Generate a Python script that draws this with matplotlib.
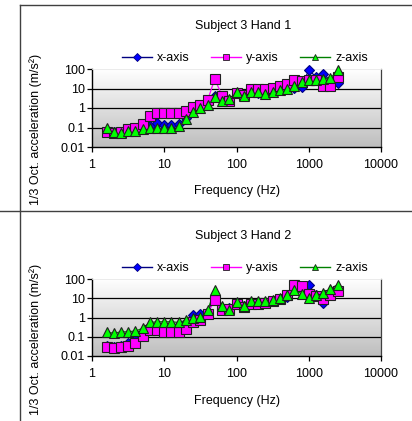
import numpy as np
import matplotlib
matplotlib.use("Agg")
import matplotlib.pyplot as plt
from matplotlib.lines import Line2D
from matplotlib.colors import LinearSegmentedColormap

plt.rcParams['font.family'] = ['Liberation Sans', 'DejaVu Sans']

# 1/3-octave band centre frequencies (Hz)
freq = [1.6, 2, 2.5, 3.15, 4, 5, 6.3, 8, 10, 12.5, 16, 20, 25, 31.5, 40, 50, 63,
        80, 100, 125, 160, 200, 250, 315, 400, 500, 630, 800, 1000, 1250, 1600,
        2000, 2500]

# Hand 1 acceleration spectra (m/s^2)
h1_x = [0.07, 0.06, 0.06, 0.07, 0.08, 0.09, 0.12, 0.18, 0.13, 0.13, 0.16, 0.3,
        0.9, 1.3, 2.0, 4.0, 3.0, 2.5, 6.0, 4.5, 7.0, 6.0, 6.0, 7.0, 8.0, 10.0,
        11.0, 12.0, 90.0, 40.0, 55.0, 25.0, 20.0]
h1_y = [0.06, 0.051, 0.06, 0.08, 0.1, 0.15, 0.4, 0.55, 0.55, 0.55, 0.55, 0.73,
        1.1, 1.4, 2.6, 31.0, 4.3, 2.4, 6.0, 4.7, 9.6, 9.6, 8.9, 10.8, 13.0, 17.0,
        26.0, 23.0, 26.0, 26.0, 13.0, 13.0, 38.0]
h1_z = [0.089, 0.06, 0.055, 0.067, 0.067, 0.08, 0.1, 0.09, 0.09, 0.09, 0.12, 0.27,
        0.6, 0.96, 1.4, 3.6, 2.2, 2.9, 7.0, 4.3, 6.5, 7.0, 5.3, 6.5, 7.9, 8.9,
        14.0, 22.0, 26.0, 26.0, 32.0, 34.0, 85.0]

# Hand 2 acceleration spectra (m/s^2)
h2_x = [0.035, 0.03, 0.035, 0.05, 0.08, 0.14, 0.3, 0.35, 0.35, 0.35, 0.4, 0.5,
        1.4, 1.6, 2.0, 12.0, 3.0, 3.0, 5.5, 4.0, 6.0, 6.0, 6.0, 7.0, 9.0, 12.0,
        30.0, 40.0, 50.0, 15.0, 6.0, 15.0, 25.0]
h2_y = [0.029, 0.026, 0.029, 0.035, 0.046, 0.11, 0.22, 0.22, 0.18, 0.18, 0.18, 0.25,
        0.6, 0.73, 1.6, 8.4, 2.4, 2.9, 5.2, 3.5, 5.0, 5.0, 5.5, 7.0, 9.0, 15.0,
        51.0, 45.0, 17.0, 12.5, 9.5, 14.0, 23.0]
h2_z = [0.18, 0.15, 0.18, 0.18, 0.2, 0.27, 0.55, 0.6, 0.6, 0.6, 0.55, 0.73,
        0.9, 1.1, 2.4, 27.0, 3.8, 2.4, 6.3, 4.0, 7.6, 7.6, 7.0, 8.4, 10.6, 15.0,
        27.0, 17.0, 10.6, 14.0, 18.0, 31.0, 51.0]

titles = ["Subject 3 Hand 1", "Subject 3 Hand 2"]
series_names = ["x-axis", "y-axis", "z-axis"]
y_ticks = [0.01, 0.1, 1, 10, 100]
y_ticklabels = ["0.01", "0.1", "1", "10", "100"]
x_ticks = [1, 10, 100, 1000, 10000]
x_ticklabels = ["1", "10", "100", "1000", "10000"]

styles = [
    dict(color="#000080", marker="D", mfc="#0000ff", mec="#000080", ms=5.0, lms=4.0),
    dict(color="#ff00ff", marker="s", mfc="#ff00ff", mec="#202020", ms=6.5, lms=4.5),
    dict(color="#008000", marker="^", mfc="#00ff00", mec="#202020", ms=7.0, lms=4.5),
]

FS = 9
W, H = 412, 421
fig = plt.figure(figsize=(W / 100, H / 100), dpi=100)


def fx(px):
    return px / W


def fy(py):
    return 1 - py / H


# panel frames
frame_kw = dict(color="#404040", lw=1.0, transform=fig.transFigure)
fig.add_artist(Line2D([fx(19.5), fx(19.5)], [fy(5), fy(H)], **frame_kw))
fig.add_artist(Line2D([fx(19.5), fx(412)], [fy(5.0), fy(5.0)], **frame_kw))
fig.add_artist(Line2D([fx(0), fx(412)], [fy(210.5), fy(210.5)], **frame_kw))

gradient = np.linspace(1, 0, 256).reshape(-1, 1)
grad_cmap = LinearSegmentedColormap.from_list("g", ["#bebebe", "#ffffff"])

panels = [
    dict(top=69, bottom=147, data=(h1_x, h1_y, h1_z), off=0),
    dict(top=279, bottom=356, data=(h2_x, h2_y, h2_z), off=210),
]

for i, p in enumerate(panels):
    ax = fig.add_axes([fx(92), fy(p["bottom"]), fx(381) - fx(92),
                       fy(p["top"]) - fy(p["bottom"])])
    ax.set_xscale("log")
    ax.set_yscale("log")
    ax.set_xlim(1, 10000)
    ax.set_ylim(0.01, 100)
    ax.imshow(gradient, cmap=grad_cmap, aspect="auto", extent=[0, 1, 0, 1],
              transform=ax.transAxes, zorder=0, vmin=0, vmax=1)
    for yv in [0.1, 1, 10]:
        ax.axhline(yv, color="black", lw=0.9, zorder=1)

    handles = []
    for vals, st, name in zip(p["data"], styles, series_names):
        ax.plot(freq, vals, color=st["color"], lw=0.9, zorder=3, clip_on=False)
        ax.plot(freq, vals, ls="none", marker=st["marker"],
                mfc=st["mfc"], mec=st["mec"], mew=0.8,
                ms=st["ms"], zorder=4, clip_on=False)
        handles.append(Line2D([], [], color=st["color"], lw=1.0,
                              marker=st["marker"], mfc=st["mfc"], mec=st["mec"],
                              mew=0.6, ms=st["lms"]))

    ax.set_xticks(x_ticks)
    ax.set_xticklabels(x_ticklabels)
    ax.set_yticks(y_ticks)
    ax.set_yticklabels(y_ticklabels)
    ax.minorticks_off()
    ax.tick_params(axis="both", direction="out", length=3.5, width=0.9,
                   labelsize=FS, colors="black")
    ax.tick_params(axis="x", pad=5)
    ax.tick_params(axis="y", pad=1.5)

    for side in ["left", "bottom"]:
        ax.spines[side].set_color("black")
        ax.spines[side].set_linewidth(1.0)
    ax.spines["right"].set_color("#404040")
    ax.spines["right"].set_linewidth(0.9)
    ax.spines["top"].set_color("#e8e8e8")
    ax.spines["top"].set_linewidth(0.6)

    off = p["off"]
    fig.text(fx(243), fy(26 + off), titles[i], ha="center", va="center",
             fontsize=FS)
    fig.text(fx(237), fy(191 + off), "Frequency (Hz)", ha="center",
             va="center", fontsize=FS)
    fig.text(fx(36), fy(129 + off), "1/3 Oct. acceleration (m/s²)",
             rotation=90, ha="center", va="center", fontsize=FS)
    fig.legend(handles, series_names, loc="center",
               bbox_to_anchor=(fx(245), fy(58 + off)), ncol=3, frameon=False,
               fontsize=FS, handlelength=2.4, handletextpad=0.4,
               columnspacing=1.7, borderpad=0.0)

fig.savefig("out.png", dpi=100)
